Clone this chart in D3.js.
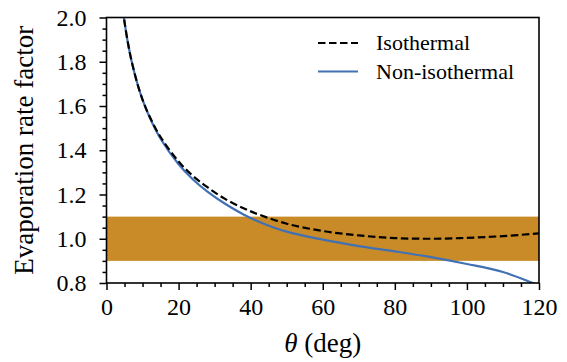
<!DOCTYPE html>
<html>
<head>
<meta charset="utf-8">
<script src="https://cdn.jsdelivr.net/npm/d3@7"></script>
<style>
  body { margin: 0; background: #fff; }
  svg text { font-family: "Liberation Serif", "DejaVu Serif", serif; fill: #000; }
  .axis path, .axis line { stroke: #000; stroke-width: 1.5; }
  .axis .domain { display: none; }
</style>
</head>
<body>
<svg id="chart" width="567" height="362"></svg>
<script>
// angle (deg) and evaporation rate factors
const isoTheta = [4.5, 5, 6, 7, 8.5, 10, 12, 15, 20, 24, 28, 33, 38, 42, 50, 60, 70, 80, 90, 100, 110, 120];
const isoValues = [2.04, 1.98, 1.88, 1.80, 1.705, 1.629, 1.551, 1.46, 1.349, 1.284, 1.233, 1.179, 1.138, 1.111, 1.068, 1.035, 1.015, 1.003, 1.0, 1.004, 1.012, 1.024];

const nonTheta = [4.5, 5, 6, 7, 8.5, 10, 12, 15, 20, 24, 28, 33, 38, 42.6, 50, 60, 70, 80, 90, 100, 110, 118.3, 120];
const nonValues = [2.04, 1.98, 1.88, 1.80, 1.705, 1.628, 1.548, 1.452, 1.337, 1.268, 1.213, 1.157, 1.11, 1.075, 1.032, 0.996, 0.967, 0.943, 0.917, 0.886, 0.85, 0.8, 0.789];

const band = [0.9, 1.1];

const xTicks = [0, 20, 40, 60, 80, 100, 120];
const yTicks = [0.8, 1.0, 1.2, 1.4, 1.6, 1.8, 2.0];

const seriesNames = ["Isothermal", "Non-isothermal"];
const colors = { iso: "#000000", non: "#4170b4", band: "#c98b27" };
const serif = '"Liberation Serif", "DejaVu Serif", serif';

const svg = d3.select("#chart");
const m = { left: 106.5, right: 539, top: 17.5, bottom: 283 };

const x = d3.scaleLinear().domain([0, 120]).range([m.left, m.right]);
const y = d3.scaleLinear().domain([0.8, 2.0]).range([m.bottom, m.top]);

svg.append("defs").append("clipPath").attr("id", "clip")
  .append("rect")
  .attr("x", m.left).attr("y", m.top)
  .attr("width", m.right - m.left).attr("height", m.bottom - m.top);

const plot = svg.append("g").attr("clip-path", "url(#clip)");

// tolerance band
plot.append("rect")
  .attr("x", x(0)).attr("width", x(120) - x(0))
  .attr("y", y(band[1])).attr("height", y(band[0]) - y(band[1]))
  .attr("fill", colors.band);

const line = d3.line()
  .x(d => x(d[0]))
  .y(d => y(d[1]))
  .curve(d3.curveCatmullRom.alpha(0.5));

plot.append("path")
  .datum(nonTheta.map((t, i) => [t, nonValues[i]]))
  .attr("d", line)
  .attr("fill", "none")
  .attr("stroke", colors.non)
  .attr("stroke-width", 2.2);

plot.append("path")
  .datum(isoTheta.map((t, i) => [t, isoValues[i]]))
  .attr("d", line)
  .attr("fill", "none")
  .attr("stroke", colors.iso)
  .attr("stroke-width", 2.2)
  .attr("stroke-dasharray", "7.5,3.5");

// axes: minor then major ticks
const xMinor = d3.range(0, 121, 5).filter(v => v % 20 !== 0);
const yMinor = d3.range(0, 25).map(i => +(0.8 + i * 0.05).toFixed(2)).filter(v => Math.round(v * 100) % 20 !== 0);

svg.append("g").attr("class", "axis")
  .attr("transform", `translate(0,${m.bottom})`)
  .call(d3.axisBottom(x).tickValues(xMinor).tickSize(4).tickFormat(""));
svg.append("g").attr("class", "axis")
  .attr("transform", `translate(${m.left},0)`)
  .call(d3.axisLeft(y).tickValues(yMinor).tickSize(4).tickFormat(""));

const xAxis = svg.append("g").attr("class", "axis")
  .attr("transform", `translate(0,${m.bottom})`)
  .call(d3.axisBottom(x).tickValues(xTicks).tickSize(7).tickPadding(8).tickFormat(d3.format("d")));
xAxis.attr("font-family", serif).attr("font-size", 24);

const yAxis = svg.append("g").attr("class", "axis")
  .attr("transform", `translate(${m.left},0)`)
  .call(d3.axisLeft(y).tickValues(yTicks).tickSize(7).tickPadding(13).tickFormat(d3.format(".1f")));
yAxis.attr("font-family", serif).attr("font-size", 24);

// frame
svg.append("rect")
  .attr("x", m.left).attr("y", m.top)
  .attr("width", m.right - m.left).attr("height", m.bottom - m.top)
  .attr("fill", "none").attr("stroke", "#000").attr("stroke-width", 1.6);

// axis titles
const xl = svg.append("text")
  .attr("x", (m.left + m.right) / 2).attr("y", 352)
  .attr("text-anchor", "middle")
  .attr("font-family", serif)
  .attr("font-size", 27);
xl.append("tspan").style("font-style", "italic").text("θ");
xl.append("tspan").text(" (deg)");

svg.append("text")
  .attr("transform", `translate(33,${(m.top + m.bottom) / 2}) rotate(-90)`)
  .attr("text-anchor", "middle")
  .attr("font-family", serif)
  .attr("font-size", 27)
  .text("Evaporation rate factor");

// legend
const legend = svg.append("g").attr("transform", "translate(318,43)");
seriesNames.forEach((name, i) => {
  const g = legend.append("g").attr("transform", `translate(0,${i * 28.5})`);
  g.append("line")
    .attr("x1", 0).attr("x2", 40)
    .attr("stroke", i === 0 ? colors.iso : colors.non)
    .attr("stroke-width", 2.2)
    .attr("stroke-dasharray", i === 0 ? "7.5,3.5" : null);
  g.append("text")
    .attr("x", 58).attr("y", 7)
    .attr("font-family", serif)
    .attr("font-size", 22)
    .text(name);
});
</script>
</body>
</html>
